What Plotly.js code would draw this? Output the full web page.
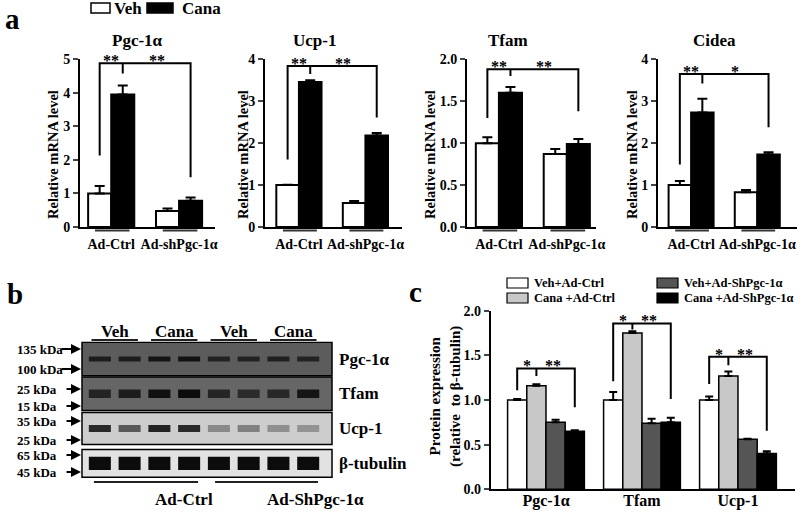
<!DOCTYPE html>
<html><head><meta charset="utf-8">
<script src="https://cdn.plot.ly/plotly-3.0.1.min.js"></script>
<style>html,body{margin:0;padding:0;background:#fff}#chart{width:800px;height:513px}</style>
</head><body><div id="chart"></div>
<script>
// ---------- Panel a: relative mRNA level ----------
const mrnaGroups = ['Ad-Ctrl', 'Ad-shPgc-1α'];
const mrnaGenes = ['Pgc-1α', 'Ucp-1', 'Tfam', 'Cidea'];
const vehPgc = [1.00, 0.48];    const vehPgcErr = [0.22, 0.07];
const canaPgc = [3.95, 0.78];   const canaPgcErr = [0.27, 0.10];
const vehUcp = [1.00, 0.57];    const vehUcpErr = [0.01, 0.05];
const canaUcp = [3.46, 2.18];   const canaUcpErr = [0.04, 0.06];
const vehTfam = [1.00, 0.87];   const vehTfamErr = [0.07, 0.06];
const canaTfam = [1.60, 0.99];  const canaTfamErr = [0.07, 0.06];
const vehCidea = [1.00, 0.83];  const vehCideaErr = [0.10, 0.05];
const canaCidea = [2.73, 1.73]; const canaCideaErr = [0.33, 0.05];
const mrnaStars = [['**', '**'], ['**', '**'], ['**', '**'], ['**', '*']];

// ---------- Panel c: protein expression ----------
const proteins = ['Pgc-1α', 'Tfam', 'Ucp-1'];
const protSeries = ['Veh+Ad-Ctrl', 'Cana +Ad-Ctrl', 'Veh+Ad-ShPgc-1α', 'Cana +Ad-ShPgc-1α'];
const vehCtrlProt = [1.00, 1.00, 1.00];  const vehCtrlProtErr = [0.01, 0.09, 0.04];
const canaCtrlProt = [1.16, 1.75, 1.27]; const canaCtrlProtErr = [0.015, 0.02, 0.05];
const vehShProt = [0.75, 0.74, 0.56];    const vehShProtErr = [0.03, 0.05, 0.005];
const canaShProt = [0.65, 0.75, 0.40];   const canaShProtErr = [0.01, 0.05, 0.026];
const protStars = [['*', '**'], ['*', '**'], ['*', '**']];

// ---------- Panel b: western blot ----------
const blotLanes = ['Veh', 'Veh', 'Cana', 'Cana', 'Veh', 'Veh', 'Cana', 'Cana'];
const blotLaneGroups = ['Veh', 'Cana', 'Veh', 'Cana'];
const blotTreatments = ['Ad-Ctrl', 'Ad-ShPgc-1α'];
const blotRows = ['Pgc-1α', 'Tfam', 'Ucp-1', 'β-tubulin'];
const blotMarkers = [['135 kDa', '100 kDa'], ['25 kDa', '15 kDa'], ['35 kDa', '25 kDa'], ['65 kDa', '45 kDa']];
const bandPgc = [0.80, 0.80, 0.90, 0.92, 0.72, 0.72, 0.76, 0.72];
const bandTfam = [0.75, 0.82, 0.95, 1.00, 0.72, 0.66, 0.70, 0.90];
const bandUcp = [0.85, 0.60, 0.88, 0.85, 0.35, 0.40, 0.32, 0.30];
const bandTub = [1.00, 1.00, 1.00, 1.00, 1.00, 1.00, 1.00, 1.00];

// ---------- geometry / style ----------
const W = 800, H = 513;
const fx = p => p / W, fy = p => 1 - p / H;
const FONT = 'Liberation Serif, Times New Roman, serif';
const f = (size, color) => ({family: FONT, size: size, color: color || '#000', weight: 'bold'});

const mrnaSets = [
  {veh: vehPgc, vehErr: vehPgcErr, cana: canaPgc, canaErr: canaPgcErr},
  {veh: vehUcp, vehErr: vehUcpErr, cana: canaUcp, canaErr: canaUcpErr},
  {veh: vehTfam, vehErr: vehTfamErr, cana: canaTfam, canaErr: canaTfamErr},
  {veh: vehCidea, vehErr: vehCideaErr, cana: canaCidea, canaErr: canaCideaErr}
];
const aXpx = [[80, 215], [265, 402], [467, 596], [658, 797]];
const aRange = [[-0.46, 1.53], [-0.51, 1.55], [-0.47, 1.43], [-0.50, 1.60]];
const aYmax = [5, 4, 2, 4];
const aDtick = [1, 1, 0.5, 1];
const aFmt = ['d', 'd', '.1f', 'd'];
const aTitleX = [137, 314, 508, 714];
const aYTitleX = [53, 243, 430, 632];
// bracket: [left-leg bottom, top, middle-tick bottom, right-leg bottom]
const aBracket = [[2.13, 4.88, 4.58, 1.48], [1.61, 3.84, 3.65, 2.61], [1.30, 1.88, 1.80, 1.38], [1.49, 3.65, 3.42, 2.38]];
const cBracket = [[1.11, 1.354, 1.27, 0.92], [1.21, 1.858, 1.79, 1.01], [1.18, 1.485, 1.39, 0.657]];

const traces = [];
const shapes = [];
const annotations = [];
const layout = {
  width: W, height: H, margin: {l: 0, r: 0, t: 0, b: 0},
  paper_bgcolor: '#fff', plot_bgcolor: 'rgba(0,0,0,0)',
  font: f(14), showlegend: false, barmode: 'overlay'
};

const bw = 0.34;
mrnaSets.forEach((s, i) => {
  const n = i === 0 ? '' : String(i + 1);
  const xa = 'x' + n, ya = 'y' + n;
  const xs = mrnaGroups.map((_, k) => k);
  traces.push({
    type: 'bar', name: 'Veh', x: xs, y: s.veh, width: bw, offset: -bw,
    xaxis: xa, yaxis: ya,
    marker: {color: '#ffffff', line: {color: '#000', width: 2}},
    error_y: {type: 'data', symmetric: false, array: s.vehErr, arrayminus: [0, 0], color: '#000', thickness: 2, width: 5}
  });
  traces.push({
    type: 'bar', name: 'Cana', x: xs, y: s.cana, width: bw, offset: 0,
    xaxis: xa, yaxis: ya,
    marker: {color: '#000000', line: {color: '#000', width: 2}},
    error_y: {type: 'data', symmetric: false, array: s.canaErr, arrayminus: [0, 0], color: '#000', thickness: 2, width: 5}
  });
  layout['xaxis' + n] = {
    domain: [fx(aXpx[i][0]), fx(aXpx[i][1])], range: aRange[i], anchor: ya,
    showline: true, linewidth: 2, linecolor: '#000', ticks: '', showgrid: false, zeroline: false,
    tickvals: xs, ticktext: mrnaGroups, tickfont: f(14), ticklabelstandoff: 3, fixedrange: true
  };
  layout['yaxis' + n] = {
    domain: [fy(227), fy(59.3)], range: [0, aYmax[i]], anchor: xa,
    showline: true, linewidth: 2, linecolor: '#000', ticks: 'outside', ticklen: 5, tickwidth: 2,
    dtick: aDtick[i], tick0: 0, tickformat: aFmt[i], showgrid: false, zeroline: false,
    tickfont: f(14), fixedrange: true
  };
  // y-axis title
  annotations.push({xref: 'paper', yref: 'paper', x: fx(aYTitleX[i]), y: fy(155), text: 'Relative mRNA level',
    textangle: -90, showarrow: false, font: f(14.5), xanchor: 'center', yanchor: 'middle'});
  // gene title
  annotations.push({xref: 'paper', yref: 'paper', x: fx(aTitleX[i]), y: fy(40), text: mrnaGenes[i],
    showarrow: false, font: f(17), xanchor: 'center', yanchor: 'middle'});
  // group underlines
  xs.forEach(g => shapes.push({type: 'line', xref: xa, yref: 'paper', x0: g - 0.24, x1: g + 0.27,
    y0: fy(230.5), y1: fy(230.5), line: {color: '#333', width: 2}}));
  // significance bracket
  const b = aBracket[i];
  const xl = -bw / 2, xm = bw / 2, xr = 1 + bw / 2;
  shapes.push({type: 'path', xref: xa, yref: ya,
    path: `M${xl},${b[0]} L${xl},${b[1]} L${xr},${b[1]} L${xr},${b[3]} M${xm},${b[1]} L${xm},${b[2]}`,
    line: {color: '#000', width: 2}});
  annotations.push({xref: xa, yref: ya, x: (xl + xm) / 2, y: b[1], text: mrnaStars[i][0], showarrow: false,
    font: f(16), yanchor: 'bottom', yshift: -8});
  annotations.push({xref: xa, yref: ya, x: (xm + xr) / 2, y: b[1], text: mrnaStars[i][1], showarrow: false,
    font: f(16), yanchor: 'bottom', yshift: -8});
});

// Panel a legend
shapes.push({type: 'rect', xref: 'paper', yref: 'paper', x0: fx(91), x1: fx(110), y0: fy(13), y1: fy(3),
  fillcolor: '#fff', line: {color: '#000', width: 1.5}});
annotations.push({xref: 'paper', yref: 'paper', x: fx(112), y: fy(8.5), text: 'Veh', showarrow: false,
  xanchor: 'left', yanchor: 'middle', font: f(17)});
shapes.push({type: 'rect', xref: 'paper', yref: 'paper', x0: fx(147), x1: fx(173), y0: fy(13), y1: fy(3),
  fillcolor: '#000', line: {color: '#000', width: 1.5}});
annotations.push({xref: 'paper', yref: 'paper', x: fx(180), y: fy(8.5), text: 'Cana', showarrow: false,
  xanchor: 'left', yanchor: 'middle', font: f(17)});

// ---------- Panel c ----------
const protSets = [
  {y: vehCtrlProt, e: vehCtrlProtErr, c: '#ffffff'},
  {y: canaCtrlProt, e: canaCtrlProtErr, c: '#c8c8c8'},
  {y: vehShProt, e: vehShProtErr, c: '#555555'},
  {y: canaShProt, e: canaShProtErr, c: '#000000'}
];
const cw = 0.2;
const px = proteins.map((_, k) => k);
protSets.forEach((s, j) => {
  traces.push({
    type: 'bar', name: protSeries[j], x: px, y: s.y, width: cw, offset: -2 * cw + j * cw,
    xaxis: 'x5', yaxis: 'y5',
    marker: {color: s.c, line: {color: '#000', width: 1.5}},
    error_y: {type: 'data', symmetric: false, array: s.e, arrayminus: s.e.map(() => 0), color: '#000', thickness: 2, width: 4}
  });
});
layout.xaxis5 = {
  domain: [fx(490.7), fx(795)], range: [-0.576, 2.594], anchor: 'y5',
  showline: true, linewidth: 2, linecolor: '#000', ticks: '', showgrid: false, zeroline: false,
  tickvals: px, ticktext: proteins, tickfont: f(16), ticklabelstandoff: -5, fixedrange: true
};
layout.yaxis5 = {
  domain: [fy(489.3), fy(310.7)], range: [0, 2], anchor: 'x5',
  showline: true, linewidth: 2, linecolor: '#000', ticks: 'outside', ticklen: 5, tickwidth: 2,
  dtick: 0.5, tick0: 0, tickformat: '.1f', showgrid: false, zeroline: false, tickfont: f(14), fixedrange: true
};
annotations.push({xref: 'paper', yref: 'paper', x: fx(445), y: fy(397), text: 'Protein expression<br>(relative  to β-tubulin)',
  textangle: -90, showarrow: false, font: f(15), xanchor: 'center', yanchor: 'middle'});
px.forEach((g, k) => {
  const b = cBracket[k];
  const xl = g - 0.3, xm = g - 0.1, xr = g + 0.3;
  shapes.push({type: 'path', xref: 'x5', yref: 'y5',
    path: `M${xl},${b[0]} L${xl},${b[1]} L${xr},${b[1]} L${xr},${b[3]} M${xm},${b[1]} L${xm},${b[2]}`,
    line: {color: '#000', width: 2}});
  annotations.push({xref: 'x5', yref: 'y5', x: (xl + xm) / 2, y: b[1], text: protStars[k][0], showarrow: false,
    font: f(16), yanchor: 'bottom', yshift: -8});
  annotations.push({xref: 'x5', yref: 'y5', x: (xm + xr) / 2 - 0.03, y: b[1], text: protStars[k][1], showarrow: false,
    font: f(16), yanchor: 'bottom', yshift: -8});
});
// panel c legend
const cLegPos = [[507, 278], [507, 293], [657, 278], [657, 293]];
protSets.forEach((s, j) => {
  const p = cLegPos[j];
  shapes.push({type: 'rect', xref: 'paper', yref: 'paper', x0: fx(p[0]), x1: fx(p[0] + 21), y0: fy(p[1] + 10), y1: fy(p[1]),
    fillcolor: s.c, line: {color: '#000', width: 1.2}});
  annotations.push({xref: 'paper', yref: 'paper', x: fx(p[0] + 25), y: fy(p[1] + 5), text: protSeries[j], showarrow: false,
    xanchor: 'left', yanchor: 'middle', font: f(12.5)});
});

// ---------- Panel b: blot ----------
const bandSets = [bandPgc, bandTfam, bandUcp, bandTub];
const rowBg = [92, 102, 205, 226];
const rowHalf = [0.48, 0.48, 0.46, 0.40];
const bandH = [0.15, 0.24, 0.20, 0.38];
const lanes = blotLanes.map((_, k) => k);
layout.xaxis6 = {domain: [fx(80.5), fx(333.5)], range: [-0.65, 7.85], anchor: 'y6', visible: false, fixedrange: true};
layout.yaxis6 = {domain: [fy(480.8), fy(341.6)], range: [3.5, -0.5], anchor: 'x6', visible: false, fixedrange: true};
bandSets.forEach((bands, r) => {
  const bg = rowBg[r];
  shapes.push({type: 'rect', xref: 'x6', yref: 'y6', x0: -0.6, x1: 7.8, y0: r - rowHalf[r], y1: r + rowHalf[r],
    fillcolor: `rgb(${bg},${bg},${bg})`, line: {color: '#000', width: 1.5}, layer: 'below'});
  traces.push({
    type: 'bar', name: blotRows[r], x: lanes, y: bands.map(() => bandH[r]), base: r - bandH[r] / 2,
    width: 0.74, xaxis: 'x6', yaxis: 'y6', hoverinfo: 'skip',
    marker: {color: bands.map(v => { const g = Math.round(bg - (bg - 12) * v); return `rgb(${g},${g},${g})`; }), line: {width: 0}}
  });
  annotations.push({xref: 'paper', yref: 'y6', x: fx(337), y: r, text: blotRows[r], showarrow: false,
    xanchor: 'left', yanchor: 'middle', font: f(17)});
});
// lane group labels and underlines
blotLaneGroups.forEach((g, k) => {
  const c = 2 * k + 0.5;
  annotations.push({xref: 'x6', yref: 'paper', x: c, y: fy(331), text: g, showarrow: false,
    yanchor: 'middle', font: f(17)});
  shapes.push({type: 'line', xref: 'x6', yref: 'paper', x0: c - 0.78, x1: c + 0.78, y0: fy(340), y1: fy(340),
    line: {color: '#222', width: 2}});
});
// treatment underlines and labels
const treatSpan = [[-0.2, 3.3], [3.87, 7.33]];
const treatLabelX = [153, 265];
blotTreatments.forEach((t, k) => {
  shapes.push({type: 'line', xref: 'x6', yref: 'paper', x0: treatSpan[k][0], x1: treatSpan[k][1], y0: fy(482), y1: fy(482),
    line: {color: '#222', width: 2}});
  annotations.push({xref: 'paper', yref: 'paper', x: fx(treatLabelX[k]), y: fy(499), text: t, showarrow: false,
    yanchor: 'middle', font: f(17)});
});
// kDa markers with arrows
const markerY = [[349, 369], [389, 406], [421, 440], [455, 472]];
const arrowTail = [[-21, -21], [-16, -16], [-16, -16], [-16, -16]];
blotMarkers.forEach((pair, r) => {
  pair.forEach((m, k) => {
    annotations.push({xref: 'paper', yref: 'paper', x: fx(15), y: fy(markerY[r][k]), text: m, showarrow: false,
      xanchor: 'left', yanchor: 'middle', font: f(13)});
    annotations.push({xref: 'paper', yref: 'paper', x: fx(81), y: fy(markerY[r][k]), text: '', showarrow: true,
      ax: arrowTail[r][k], ay: 0, arrowhead: 2, arrowsize: 1, arrowwidth: 2, arrowcolor: '#000'});
  });
});

// panel letters
[['a', 12, 19], ['b', 15, 294], ['c', 415, 292]].forEach(p => {
  annotations.push({xref: 'paper', yref: 'paper', x: fx(p[1]), y: fy(p[2]), text: p[0], showarrow: false,
    xanchor: 'center', yanchor: 'middle', font: f(29)});
});

layout.shapes = shapes;
layout.annotations = annotations;
Plotly.newPlot('chart', traces, layout, {displayModeBar: false, staticPlot: true});
</script>
</body></html>
